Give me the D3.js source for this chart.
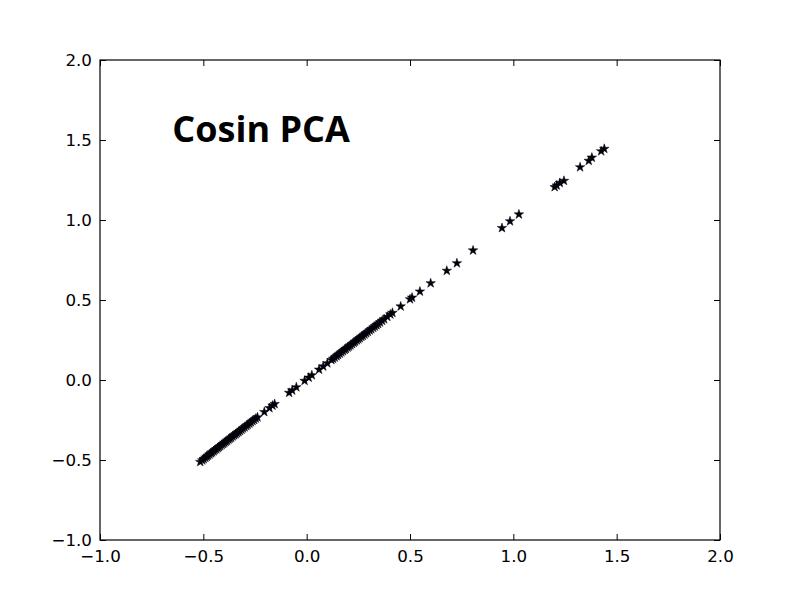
<!DOCTYPE html>
<html>
<head>
<meta charset="utf-8">
<script src="https://cdn.jsdelivr.net/npm/d3@7"></script>
<style>
html,body{margin:0;padding:0;background:#fff;}
</style>
</head>
<body>
<svg id="chart" width="800" height="600"></svg>
<script>
// Data (x, y pairs along the diagonal)
const xValues = [
 -0.515,-0.505,-0.498,-0.49,-0.483,-0.477,-0.47,-0.463,-0.457,-0.45,
 -0.444,-0.437,-0.43,-0.424,-0.418,-0.411,-0.404,-0.398,-0.391,-0.385,
 -0.378,-0.372,-0.365,-0.358,-0.351,-0.344,-0.337,-0.33,-0.323,-0.315,
 -0.308,-0.3,-0.292,-0.285,-0.277,-0.27,-0.262,-0.254,-0.246,-0.238,
 -0.205,-0.18,-0.165,-0.155,
 -0.085,-0.07,-0.05,
 -0.01,0.01,0.025,
 0.06,0.08,0.1,
 0.12,0.128,0.136,0.145,0.152,0.16,0.168,0.176,0.184,0.19,
 0.198,0.205,0.212,0.22,0.228,0.235,0.243,0.25,0.257,0.265,
 0.272,0.28,0.288,0.296,0.305,0.313,0.322,0.33,0.338,0.346,
 0.355,0.365,0.375,0.39,0.405,
 0.415,0.455,0.5,0.51,0.548,0.6,0.678,0.727,0.805,
 0.945,0.984,1.027,
 1.2,1.21,1.225,1.245,
 1.323,1.365,1.38,1.425,1.44
];
const yValues = [
 -0.512,-0.502,-0.494,-0.486,-0.479,-0.472,-0.465,-0.458,-0.452,-0.445,
 -0.438,-0.432,-0.425,-0.419,-0.412,-0.405,-0.399,-0.392,-0.386,-0.379,
 -0.372,-0.366,-0.36,-0.352,-0.345,-0.339,-0.332,-0.325,-0.318,-0.31,
 -0.302,-0.295,-0.287,-0.28,-0.272,-0.264,-0.256,-0.249,-0.241,-0.233,
 -0.2,-0.175,-0.16,-0.15,
 -0.08,-0.065,-0.045,
 -0.005,0.015,0.03,
 0.065,0.085,0.105,
 0.125,0.133,0.141,0.149,0.157,0.165,0.173,0.181,0.189,0.195,
 0.203,0.21,0.217,0.225,0.233,0.24,0.248,0.255,0.262,0.27,
 0.277,0.285,0.293,0.301,0.31,0.318,0.327,0.335,0.343,0.351,
 0.36,0.37,0.38,0.395,0.41,
 0.42,0.46,0.505,0.515,0.553,0.605,0.683,0.73,0.81,
 0.95,0.992,1.035,
 1.206,1.216,1.232,1.245,
 1.33,1.37,1.39,1.43,1.445
];
const xTicks = [-1.0,-0.5,0.0,0.5,1.0,1.5,2.0];
const yTicks = [-1.0,-0.5,0.0,0.5,1.0,1.5,2.0];
const titleText = "Cosin PCA";

const svg = d3.select("#chart");
const mLeft = 100, mRight = 720, mTop = 60, mBottom = 540;
const x = d3.scaleLinear().domain([-1, 2]).range([mLeft, mRight]);
const y = d3.scaleLinear().domain([-1, 2]).range([mBottom, mTop]);
const fmt = v => d3.format(".1f")(v).replace("-", "\u2212");
const tickLen = 6;
const font = "'DejaVu Sans', sans-serif";

// points
const sym = d3.symbol().type(d3.symbolStar).size(28);
svg.append("g").selectAll("path")
  .data(xValues.map((v, i) => [v, yValues[i]]))
  .join("path")
  .attr("d", sym)
  .attr("transform", d => `translate(${x(d[0])},${y(d[1])})`)
  .attr("fill", "#000010")
  .attr("stroke", "#000000")
  .attr("stroke-width", 0.5);

// axes (inward ticks on all sides)
function styleAxis(g) {
  g.select(".domain").remove();
  g.selectAll(".tick line").attr("stroke", "#000").attr("stroke-width", 1);
  g.selectAll(".tick text").attr("fill", "#000").style("font-family", font).style("font-size", "16.7px");
}
svg.append("g").attr("transform", `translate(0,${mBottom})`)
  .call(d3.axisBottom(x).tickValues(xTicks).tickFormat(fmt).tickSizeInner(-tickLen).tickSizeOuter(0).tickPadding(10))
  .call(styleAxis);
svg.append("g").attr("transform", `translate(0,${mTop})`)
  .call(d3.axisTop(x).tickValues(xTicks).tickFormat("").tickSizeInner(-tickLen).tickSizeOuter(0))
  .call(styleAxis);
svg.append("g").attr("transform", `translate(${mLeft},0)`)
  .call(d3.axisLeft(y).tickValues(yTicks).tickFormat(fmt).tickSizeInner(-tickLen).tickSizeOuter(0).tickPadding(8))
  .call(styleAxis);
svg.append("g").attr("transform", `translate(${mRight},0)`)
  .call(d3.axisRight(y).tickValues(yTicks).tickFormat("").tickSizeInner(-tickLen).tickSizeOuter(0))
  .call(styleAxis);

// frame
svg.append("rect").attr("x", mLeft).attr("y", mTop).attr("width", mRight - mLeft).attr("height", mBottom - mTop)
  .attr("fill", "none").attr("stroke", "#000").attr("stroke-width", 1.2);

// title text in data coordinates
svg.append("text")
  .attr("x", x(-0.65)).attr("y", y(1.49))
  .style("font-family", "'Open Sans', sans-serif")
  .style("font-weight", "700")
  .style("font-size", "36px")
  .attr("fill", "#000")
  .text(titleText);
</script>
</body>
</html>
